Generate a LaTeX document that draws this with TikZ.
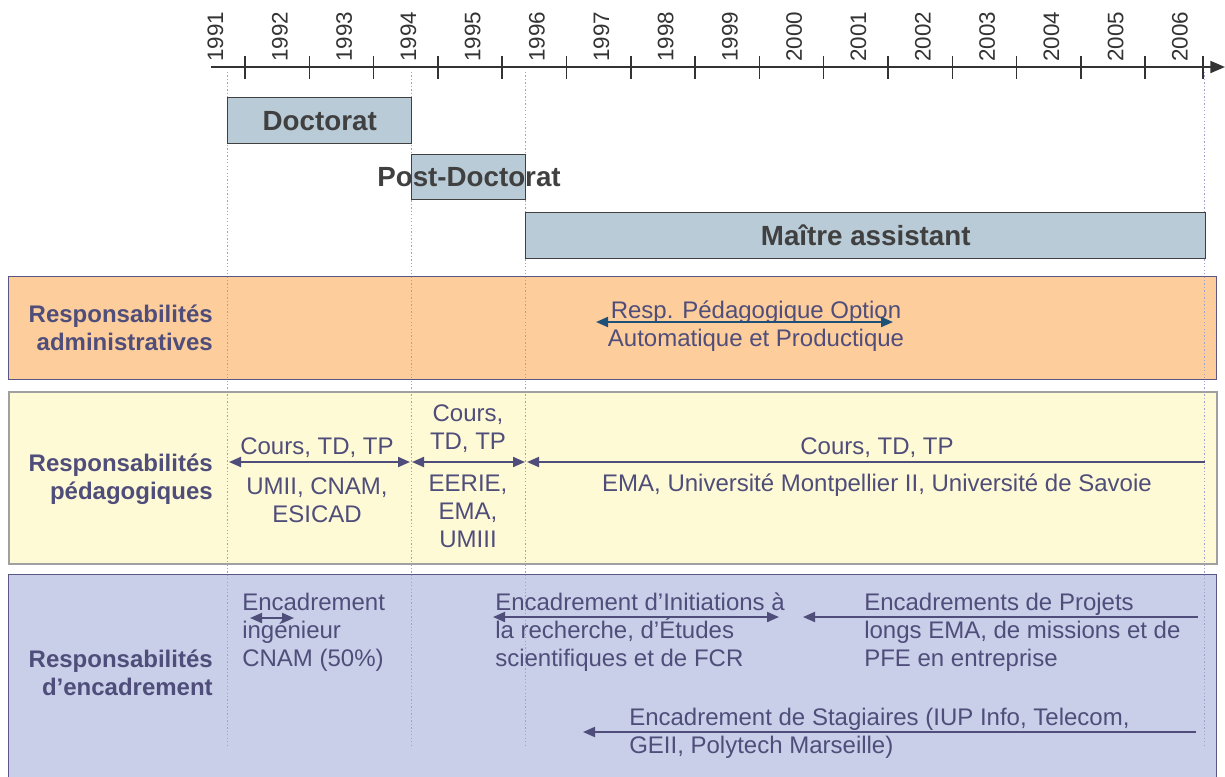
\documentclass[tikz,border=0pt]{standalone}
\usepackage{fontspec}
\setmainfont{Liberation Sans}
\usetikzlibrary{arrows.meta}
\definecolor{txt}{HTML}{4F4D7A}
\definecolor{axisc}{HTML}{333333}
\definecolor{barfill}{HTML}{B8CBD6}
\definecolor{barline}{HTML}{404040}
\definecolor{admfill}{HTML}{FDCE9C}
\definecolor{pedfill}{HTML}{FFFAD6}
\definecolor{encfill}{HTML}{C9CFE8}
\definecolor{bandline}{HTML}{5A5785}
\definecolor{pedline}{HTML}{A0A0A0}
\definecolor{dotc}{HTML}{A0A0CC}
\definecolor{admarrow}{HTML}{1F5078}
\tikzset{
  band/.style={rectangle, anchor=north west, inner sep=0pt, line width=0.8pt},
  bar/.style={rectangle, anchor=north west, inner sep=0pt, fill=barfill, draw=barline, line width=1.1pt},
  bartext/.style={inner sep=0pt, text=barline, font=\fontsize{20.8}{24}\selectfont\bfseries},
  bandlabel/.style={anchor=east, align=right, inner sep=0pt, text=txt, font=\fontsize{18}{21}\selectfont\bfseries},
  lbl/.style={inner sep=0pt, text=txt, font=\fontsize{18}{21}\selectfont},
  year/.style={rotate=90, anchor=west, inner sep=0pt, text=axisc, font=\fontsize{16.8}{18}\selectfont},
  guide/.style={draw=dotc, line width=0.6pt, dash pattern=on 1pt off 1.6pt},
  span/.style={draw=txt, line width=1.5pt, {Triangle[length=9pt,width=7.5pt]}-{Triangle[length=9pt,width=7.5pt]}},
  lspan/.style={draw=txt, line width=1.5pt, {Triangle[length=9pt,width=7.5pt]}-},
}
\begin{document}
\begin{tikzpicture}[x=0.75pt,y=-0.75pt]
\useasboundingbox (0,0) rectangle (1225,776);
\clip (0,0) rectangle (1225,776);

% bands
\node[band, fill=admfill, draw=bandline, minimum width=906pt, minimum height=77.25pt] (adm) at (8,276) {};
\node[band, fill=pedfill, draw=pedline, line width=1.4pt, minimum width=906pt, minimum height=129pt] (ped) at (8,391) {};
\node[band, fill=encfill, draw=bandline, minimum width=906pt, minimum height=165pt] (enc) at (8,574) {};

% guides
\foreach \gx in {227,411,525,1204}{
  \draw[guide] (\gx,72) -- (\gx,745);
}

% axis
\coordinate (axs) at (211,67);
\coordinate (axe) at (1225,67);
\draw[axisc, line width=1.5pt, -{Triangle[length=11pt,width=9pt]}] (axs) -- (axe);
\foreach \k in {0,...,14}{
  \draw[axisc, line width=1.1pt] ({245+64.3*\k},56) -- ({245+64.3*\k},79);
}
\draw[axisc, line width=1.1pt] (1203,56) -- (1203,79);
\foreach \yr [count=\k from 0] in {1991,...,2006}{
  \node[year] (y\yr) at ({215.5+64.3*\k},62) {\yr};
}

% bars
\node[bar, minimum width=138pt, minimum height=34.5pt] (doc) at (227,97) {};
\node[bartext] (doct) at (doc.center) {Doctorat};
\node[bar, minimum width=85.5pt, minimum height=33.75pt] (post) at (411,154) {};
\node[bartext] (postt) at (469,177) {Post-Doctorat};
\node[bar, minimum width=510pt, minimum height=34.5pt] (ma) at (525,212) {};
\node[bartext] (mat) at (ma.center) {Maître assistant};

% band labels
\node[bandlabel] (ladm) at (213,328) {Responsabilités\\administratives};
\node[bandlabel] (lped) at (213,479) {Responsabilités\\pédagogiques};
\node[bandlabel] (lenc) at (213,673) {Responsabilités\\d’encadrement};

% administrative
\node[lbl, align=center] (admt) at (756,326) {Resp. Pédagogique Option\\Automatique et Productique};
\coordinate (a1) at (596,322);
\coordinate (a2) at (893,322);
\draw[span, draw=admarrow] (a1) -- (a2);

% pedagogical
\coordinate (p1) at (229,462);
\coordinate (p2) at (410,462);
\coordinate (p3) at (412,462);
\coordinate (p4) at (525,462);
\coordinate (p5) at (527,462);
\coordinate (p6) at (1205,462);
\draw[span] (p1) -- (p2);
\draw[span] (p3) -- (p4);
\draw[lspan] (p5) -- (p6);
\node[lbl] (pt1) at (317,448) {Cours, TD, TP};
\node[lbl, align=center] (pb1) at (317,500) {UMII, CNAM,\\ESICAD};
\node[lbl, align=center] (pt2) at (468,429) {Cours,\\TD, TP};
\node[lbl, align=center] (pb2) at (468,511) {EERIE,\\EMA,\\UMIII};
\node[lbl] (pt3) at (877,448) {Cours, TD, TP};
\node[lbl] (pb3) at (877,485) {EMA, Université Montpellier II, Université de Savoie};

% encadrement
\node[lbl, anchor=west, align=left] (e1) at (242,632) {Encadrement\\ingénieur\\CNAM (50\%)};
\node[lbl, anchor=west, align=left] (e2) at (495,632) {Encadrement d’Initiations à\\la recherche, d’Études\\scientifiques et de FCR};
\node[lbl, anchor=west, align=left] (e3) at (864,632) {Encadrements de Projets\\longs EMA, de missions et de\\PFE en entreprise};
\node[lbl, anchor=west, align=left] (e4) at (629,733) {Encadrement de Stagiaires (IUP Info, Telecom,\\GEII, Polytech Marseille)};
\coordinate (c1) at (250,618);
\coordinate (c2) at (294,618);
\coordinate (c3) at (493,617);
\coordinate (c4) at (779,617);
\coordinate (c5) at (803,617);
\coordinate (c6) at (1198,617);
\coordinate (c7) at (583,732);
\coordinate (c8) at (1196,732);
\draw[span] (c1) -- (c2);
\draw[span] (c3) -- (c4);
\draw[lspan] (c5) -- (c6);
\draw[lspan] (c7) -- (c8);
\end{tikzpicture}
\end{document}
